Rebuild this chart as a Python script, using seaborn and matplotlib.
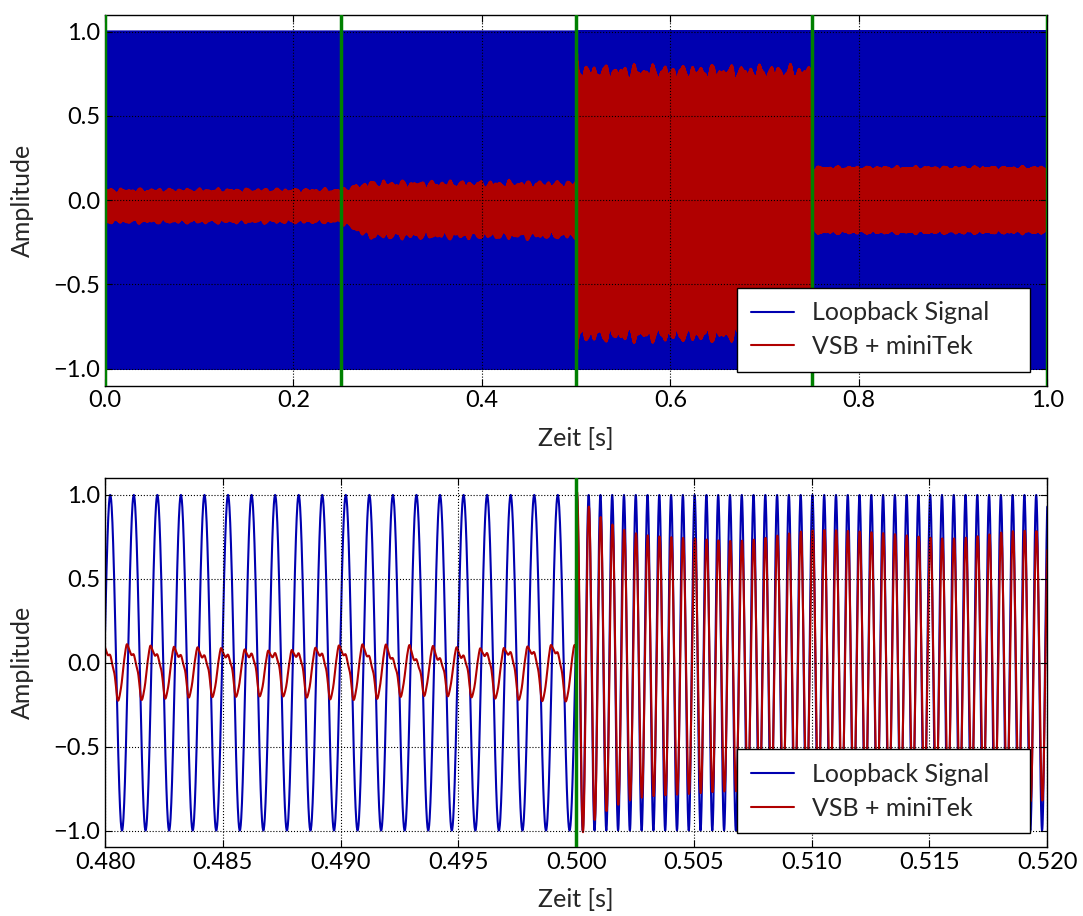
import numpy as np
import matplotlib
matplotlib.use("Agg")
import matplotlib.pyplot as plt
import matplotlib.ticker as mticker
import seaborn as sns

# --- recorded signals (1 s, four test segments) ---
fs = 96000
seg_edges = [0.0, 0.25, 0.5, 0.75, 1.0]
seg_freq = [1000, 1000, 2000, 2000]              # Hz of the loopback tone
seg_peak = [0.49922, 0.49922, 0.50003, 0.50003]  # time of one blue maximum (phase)

# VSB + miniTek response per segment
red_gain = [0.6, 1.0, 0.78, 0.19]
red_offset = [0.0, 0.0, -0.02, 0.0]
red_distorted = [True, True, False, False]
ramp_end = 0.28            # segment 2 grows from 0.25 to here
overshoot = 0.22           # extra amplitude right after 0.5 s
overshoot_tau = 0.0012

# distorted waveform (phase in cycles after the blue maximum)
dist_base = 0.06
dist_dip, dist_dip_pos, dist_dip_k = -0.27, 0.357, 1.5
dist_bump, dist_bump_pos, dist_bump_k = 0.07, 0.70, 10.0
dist_ripple = 0.01

# envelope ripple (offset to tone in Hz, relative amplitude)
ripple_df = [97, -61, 143, -211]
ripple_amp = [0.03, 0.02, 0.012, 0.008]

green_top = [0.0, 0.25, 0.5, 0.75, 1.0]
green_bottom = [0.5]

t = np.arange(0, int(fs * 1.0) + 1) / fs
blue = np.zeros_like(t)
red = np.zeros_like(t)


def vm(x, k):
    return np.exp(k * (np.cos(2 * np.pi * x) - 1))


for i in range(4):
    m = (t >= seg_edges[i]) & (t < seg_edges[i + 1] if i < 3 else t <= seg_edges[i + 1])
    ts = t[m]
    f = seg_freq[i]
    ph = f * (ts - seg_peak[i])
    blue[m] = np.cos(2 * np.pi * ph)
    g = np.full_like(ts, red_gain[i])
    if i == 1:
        g = red_gain[0] + (red_gain[1] - red_gain[0]) * np.clip((ts - 0.25) / (ramp_end - 0.25), 0, 1)
    if i == 2:
        g = g + overshoot * np.exp(-(ts - 0.5) / overshoot_tau)
    rip = np.zeros_like(ts)
    for df, a in zip(ripple_df, ripple_amp):
        rip += a * np.cos(2 * np.pi * (f + df) * ts + df)
    if red_distorted[i]:
        shape = (dist_base + dist_dip * vm(ph - dist_dip_pos, dist_dip_k)
                 + dist_bump * vm(ph - dist_bump_pos, dist_bump_k)
                 + dist_ripple * np.cos(2 * np.pi * 5 * ph))
        red[m] = g * shape + g * 0.4 * rip
    else:
        red[m] = red_offset[i] + g * np.cos(2 * np.pi * (ph - 0.02)) + g * rip

# --- style ---
sns.set_style("ticks")
plt.rcParams["font.family"] = ["Lato", "DejaVu Sans"]
plt.rcParams.update({
    "xtick.direction": "in", "ytick.direction": "in",
    "xtick.top": True, "ytick.right": True,
    "xtick.major.size": 5, "ytick.major.size": 5,
    "xtick.color": "black", "ytick.color": "black",
    "axes.edgecolor": "black", "axes.linewidth": 1.0,
    "axes.axisbelow": False,
    "xtick.labelsize": 17, "ytick.labelsize": 17,
})

c_blue = "#0000b0"
c_red = "#b00000"
c_green = "#008000"

fig = plt.figure(figsize=(10.83, 9.16), dpi=100)
ax1 = fig.add_axes([0.097, 0.579, 0.870, 0.405])
ax2 = fig.add_axes([0.097, 0.075, 0.870, 0.403])


def draw(ax, tt, bb, rr, greens):
    sns.lineplot(x=tt, y=bb, ax=ax, color=c_blue, lw=1.5, label="Loopback Signal",
                 estimator=None, sort=False)
    sns.lineplot(x=tt, y=rr, ax=ax, color=c_red, lw=1.5, label="VSB + miniTek",
                 estimator=None, sort=False)
    for g in greens:
        ax.axvline(g, color=c_green, lw=2.5, zorder=3)
    ax.set_ylim(-1.1, 1.1)
    ax.yaxis.set_major_locator(mticker.MultipleLocator(0.5))
    ax.grid(True, color="black", ls=":", lw=0.8)
    ax.set_xlabel("Zeit [s]", fontsize=18, labelpad=11)
    ax.set_ylabel("Amplitude", fontsize=18, labelpad=14)
    # legend box placed like the original (lower right, wide frame)
    leg = ax.legend(loc="lower left", bbox_to_anchor=(0.671, 0.038, 0.311, 0.24),
                    mode="expand", fontsize=18, frameon=True, fancybox=False,
                    framealpha=1, edgecolor="black", handlelength=1.7,
                    handletextpad=0.75, borderpad=0.55, borderaxespad=0.0,
                    labelspacing=0.42)
    leg.get_frame().set_linewidth(1.0)
    for ln in leg.get_lines():
        ln.set_linewidth(1.5)


draw(ax1, t, blue, red, green_top)
ax1.set_xlim(0.0, 1.0)
ax1.xaxis.set_major_locator(mticker.MultipleLocator(0.2))

w = (t >= 0.48) & (t <= 0.52)
draw(ax2, t[w], blue[w], red[w], green_bottom)
ax2.set_xlim(0.48, 0.52)
ax2.xaxis.set_major_locator(mticker.MultipleLocator(0.005))
ax2.xaxis.set_major_formatter(mticker.FormatStrFormatter("%.3f"))

fig.savefig("out.png", dpi=100)
